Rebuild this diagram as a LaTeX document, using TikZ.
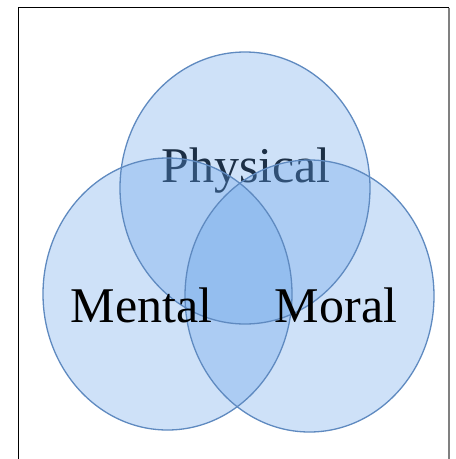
\documentclass[tikz,border=0pt]{standalone}
\usepackage{fontspec}
\setmainfont{Liberation Serif}
\begin{document}
\begin{tikzpicture}[x=1pt,y=-1pt,
  venn/.style={fill=vennfill,fill opacity=0.3},
  vennedge/.style={draw=vennline,line width=1.3pt},
  lbl/.style={anchor=base,inner sep=0pt,font=\fontsize{50}{60}\selectfont,text=black}]
\definecolor{vennfill}{RGB}{95,158,232}
\definecolor{vennline}{RGB}{95,138,192}
\useasboundingbox (0,0) rectangle (456,459);
\fill[white] (0,0) rectangle (456,459);
\coordinate (fbl) at (18,470);
\coordinate (ftl) at (18,7.5);
\coordinate (ftr) at (449,7.5);
\coordinate (fbr) at (449,470);
\draw[line width=1pt,black] (fbl) -- (ftl) -- (ftr);
\draw[line width=2pt,gray] (ftr) -- (fbr);
\node[lbl] (phys) at (246,182) {Physical};
\fill[venn] (245,188) ellipse [x radius=125, y radius=136];
\fill[venn] (167.5,294) ellipse [x radius=124.5, y radius=136];
\fill[venn] (309.5,296) ellipse [x radius=124.5, y radius=136];
\draw[vennedge] (245,188) ellipse [x radius=125, y radius=136];
\draw[vennedge] (167.5,294) ellipse [x radius=124.5, y radius=136];
\draw[vennedge] (309.5,296) ellipse [x radius=124.5, y radius=136];
\node[lbl] (ment) at (141.5,322) {Mental};
\node[lbl] (mor) at (336,322) {Moral};
\end{tikzpicture}
\end{document}
